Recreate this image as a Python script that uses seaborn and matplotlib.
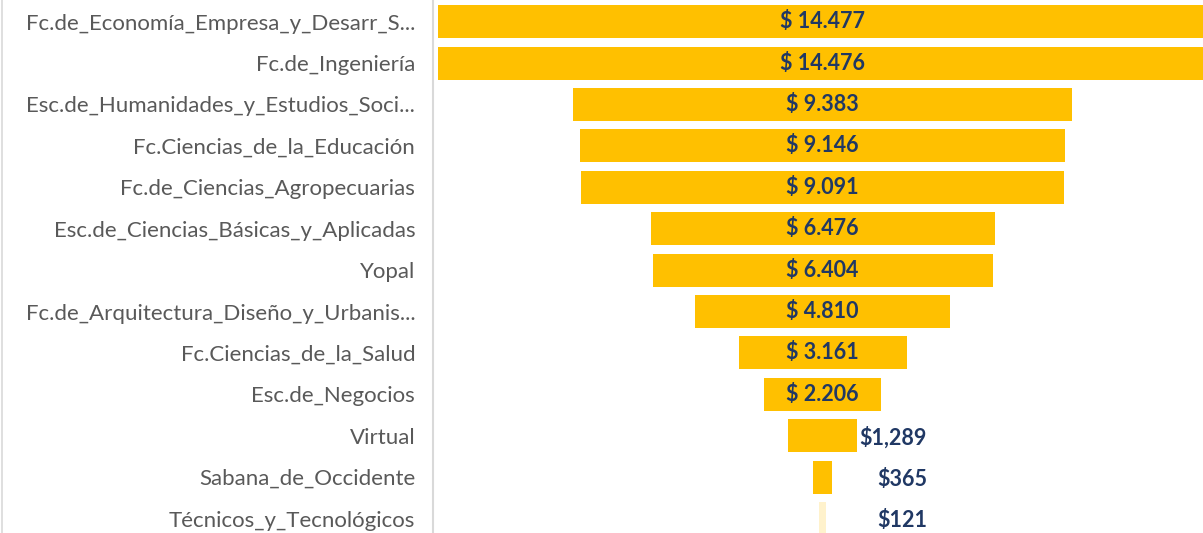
import numpy as np
import pandas as pd
import matplotlib.pyplot as plt
from matplotlib.lines import Line2D
import seaborn as sns

# Datos del embudo
facultades = ["Fc.de_Economía_Empresa_y_Desarr_S...", "Fc.de_Ingeniería",
              "Esc.de_Humanidades_y_Estudios_Soci...", "Fc.Ciencias_de_la_Educación",
              "Fc.de_Ciencias_Agropecuarias", "Esc.de_Ciencias_Básicas_y_Aplicadas",
              "Yopal", "Fc.de_Arquitectura_Diseño_y_Urbanis...", "Fc.Ciencias_de_la_Salud",
              "Esc.de_Negocios", "Virtual", "Sabana_de_Occidente", "Técnicos_y_Tecnológicos"]
valores = [14477, 14476, 9383, 9146, 9091, 6476, 6404, 4810, 3161, 2206, 1289, 365, 121]
etiquetas = ["$ 14.477", "$ 14.476", "$ 9.383", "$ 9.146", "$ 9.091", "$ 6.476", "$ 6.404",
             "$ 4.810", "$ 3.161", "$ 2.206", "$1,289", "$365", "$121"]

df = pd.DataFrame({"facultad": facultades, "valor": valores, "etiqueta": etiquetas})
df["mitad"] = df["valor"] / 2
df["neg"] = -df["mitad"]

sns.set_style("white")
plt.rcParams["font.family"] = ["Lato", "DejaVu Sans"]

amarillo = "#FFC000"
azul = "#203864"

fig = plt.figure(figsize=(12.03, 5.33), dpi=100)
ax = fig.add_axes([436 / 1203, 0, 1 - 436 / 1203, 1])

# mitad derecha y mitad izquierda -> barra centrada
sns.barplot(data=df, x="mitad", y="facultad", color=amarillo, width=0.8,
            saturation=1, ax=ax, orient="h")
sns.barplot(data=df, x="neg", y="facultad", color=amarillo, width=0.8,
            saturation=1, ax=ax, orient="h")
for p in ax.patches:
    p.set_edgecolor("none")
# la barra más pequeña casi no se ve en el original
n = len(df)
ax.patches[n - 1].set_alpha(0.2)
ax.patches[2 * n - 1].set_alpha(0.2)

for i, row in df.iterrows():
    if row["valor"] > 2000:
        ax.text(0, i, row["etiqueta"], ha="center", va="center", fontsize=15.5,
                fontweight="bold", color=azul)
    else:
        ax.text(1966, i + 0.05, row["etiqueta"], ha="right", va="center", fontsize=15.5,
                fontweight="bold", color=azul)

ax.set_xlim(-7281, 7164)
ax.set_ylim(12.35, -0.524)
ax.set_xlabel("")
ax.set_ylabel("")
ax.set_xticks([])
ax.tick_params(axis="y", length=0, pad=15, labelsize=16, labelcolor="#595959")
for s in ax.spines.values():
    s.set_visible(False)

fig.add_artist(Line2D([433 / 1203, 433 / 1203], [0, 1], color="#D9D9D9", lw=1.5))
fig.add_artist(Line2D([1.5 / 1203, 1.5 / 1203], [0, 1], color="#D9D9D9", lw=1.2))

fig.savefig("out.png", dpi=100)
